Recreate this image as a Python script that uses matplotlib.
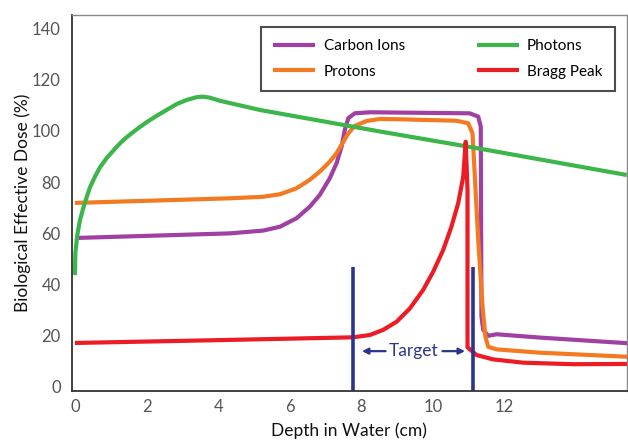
import matplotlib
matplotlib.use("Agg")
import matplotlib.pyplot as plt

# ---------------- data ----------------
photons_x = [0.0, 0.01, 0.065, 0.14, 0.23, 0.33, 0.42, 0.56, 0.70, 0.88, 1.07, 1.26, 1.44, 1.72, 2.00, 2.28,
             2.56, 2.84, 3.12, 3.40, 3.58, 3.77, 4.05, 5.17, 8.52, 11.31, 15.42]
photons_y = [43.7, 52.2, 59.4, 65.2, 69.8, 74.3, 78.0, 82.2, 85.8, 89.3, 92.3, 95.2, 97.5, 100.6, 103.4, 105.9,
             108.2, 110.5, 112.1, 113.2, 113.4, 113.0, 111.8, 108.2, 99.8, 93.1, 82.8]

protons_x = [0.0, 4.33, 5.26, 5.73, 6.19, 6.56, 6.84, 7.12, 7.31, 7.50, 7.64, 7.82, 8.15, 8.52, 8.98, 10.66, 10.99, 11.11,
             11.17, 11.27, 11.39, 11.47, 11.55, 11.78, 12.99, 15.45]
protons_y = [71.9, 73.7, 74.3, 75.3, 77.6, 80.9, 84.1, 88.0, 91.3, 95.8, 99.1, 102.0, 103.9, 104.7, 104.6, 104.0, 103.0, 99.1,
             83.5, 57.4, 31.4, 19.6, 15.7, 14.7, 13.4, 11.8]

carbon_x = [0.0, 4.33, 5.26, 5.73, 6.19, 6.56, 6.84, 7.12, 7.31, 7.45, 7.54, 7.64, 7.82, 8.24, 11.03, 11.27, 11.34,
            11.36, 11.41, 11.55, 11.78, 12.99, 15.45]
carbon_y = [58.2, 60.0, 61.1, 62.6, 65.9, 70.4, 75.0, 81.5, 87.4, 93.9, 100.4, 105.0, 106.9, 107.3, 106.9, 105.6, 101.7,
            27.5, 22.3, 20.0, 20.6, 19.3, 17.1]

bragg_x = [0.0, 4.0, 7.77, 8.24, 8.61, 8.99, 9.36, 9.73, 10.01, 10.29, 10.52, 10.71, 10.85, 10.92, 10.97, 10.97,
           11.22, 11.68, 12.52, 13.92, 15.45]
bragg_y = [17.2, 18.3, 19.4, 20.3, 22.3, 25.5, 30.7, 37.9, 45.0, 53.5, 62.6, 71.8, 82.1, 95.8, 77.0, 15.5,
           12.5, 10.8, 9.5, 8.9, 9.0]

target_x = [7.77, 11.12]
target_top = 47

x_ticks = [0, 2, 4, 6, 8, 10, 12]
y_ticks = [0, 20, 40, 60, 80, 100, 120, 140]

# ---------------- style ----------------
plt.rcParams['font.family'] = ['Lato', 'DejaVu Sans']
C_PURPLE = '#A040A2'
C_ORANGE = '#F47A22'
C_GREEN = '#3CB54A'
C_RED = '#EC1C24'
C_NAVY = '#2B3590'

fig = plt.figure(figsize=(6.28, 4.41), dpi=100)
ax = fig.add_axes([0.1146, 0.1134, 0.8834, 0.8526])

lw = 3.0
kw = dict(solid_joinstyle='round', solid_capstyle='butt')
l_c, = ax.plot(carbon_x, carbon_y, color=C_PURPLE, lw=lw, label='Carbon Ions', **kw)
l_p, = ax.plot(protons_x, protons_y, color=C_ORANGE, lw=lw, label='Protons', **kw)
l_g, = ax.plot(photons_x, photons_y, color=C_GREEN, lw=lw, label='Photons', **kw)
l_b, = ax.plot(bragg_x, bragg_y, color=C_RED, lw=lw, label='Bragg Peak', **kw)

for tx in target_x:
    ax.plot([tx, tx], [-5, target_top], color=C_NAVY, lw=2.6, solid_capstyle='butt')

ax.text(9.47, 14.0, 'Target', color=C_NAVY, fontsize=12.5, ha='center', va='center')
ax.annotate('', xy=(8.02, 14.0), xytext=(8.68, 14.0),
            arrowprops=dict(arrowstyle='-|>', color=C_NAVY, lw=1.6, mutation_scale=9, shrinkA=0, shrinkB=0))
ax.annotate('', xy=(10.90, 14.0), xytext=(10.27, 14.0),
            arrowprops=dict(arrowstyle='-|>', color=C_NAVY, lw=1.6, mutation_scale=9, shrinkA=0, shrinkB=0))

ax.set_xlim(-0.084, 15.42)
ax.set_ylim(-1.56, 145.3)
ax.set_xticks(x_ticks)
ax.set_yticks(y_ticks)
ax.tick_params(length=0, labelsize=12, labelcolor='#555555')
ax.tick_params(axis='x', pad=6)
ax.tick_params(axis='y', pad=8)

for s in ['left', 'bottom']:
    ax.spines[s].set_color('#333333')
    ax.spines[s].set_linewidth(1.3)
for s in ['top', 'right']:
    ax.spines[s].set_color('#888888')
    ax.spines[s].set_linewidth(1.0)

ax.set_xlabel('Depth in Water (cm)', fontsize=12.5, color='#111111', labelpad=5)
ax.set_ylabel('Biological Effective Dose (%)', fontsize=12.5, color='#111111', labelpad=1)

leg = ax.legend(handles=[l_c, l_p, l_g, l_b], ncol=2, loc='upper left',
                bbox_to_anchor=(0.3405, 0.968), fontsize=11, frameon=True, fancybox=False,
                handlelength=2.75, handletextpad=0.55, columnspacing=4.7, labelspacing=0.75,
                borderpad=0.8, borderaxespad=0)
leg.get_frame().set_edgecolor('#222222')
leg.get_frame().set_linewidth(1.5)

fig.savefig('out.png', dpi=100)
